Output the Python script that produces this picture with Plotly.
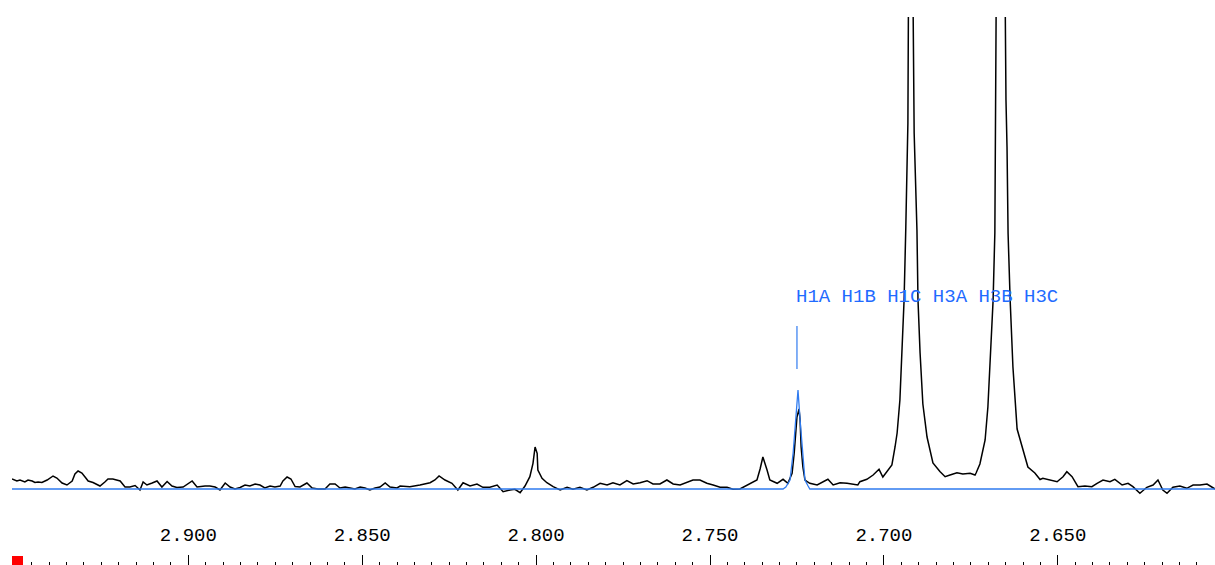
import plotly.graph_objects as go

# chemical shift (ppm) and intensity of the measured spectrum (black)
spec_ppm = [
    2.9507, 2.9493, 2.9484, 2.9470, 2.9461, 2.9449, 2.9441, 2.9432, 2.9421, 2.9406,
    2.9389, 2.9378, 2.9363, 2.9349, 2.9334, 2.9326, 2.9317, 2.9306, 2.9297, 2.9288,
    2.9274, 2.9254, 2.9240, 2.9231, 2.9217, 2.9196, 2.9182, 2.9168, 2.9153, 2.9139,
    2.9130, 2.9119, 2.9104, 2.9090, 2.9076, 2.9061, 2.9047, 2.9033, 2.9015, 2.8989,
    2.8975, 2.8966, 2.8952, 2.8938, 2.8923, 2.8909, 2.8894, 2.8880, 2.8866, 2.8851,
    2.8837, 2.8823, 2.8808, 2.8794, 2.8780, 2.8765, 2.8751, 2.8736, 2.8728, 2.8716,
    2.8705, 2.8693, 2.8679, 2.8659, 2.8644, 2.8627, 2.8607, 2.8593, 2.8578, 2.8564,
    2.8549, 2.8535, 2.8521, 2.8506, 2.8492, 2.8478, 2.8463, 2.8449, 2.8434, 2.8420,
    2.8400, 2.8391, 2.8363, 2.8334, 2.8305, 2.8291, 2.8279, 2.8262, 2.8242, 2.8225,
    2.8210, 2.8190, 2.8170, 2.8153, 2.8133, 2.8112, 2.8095, 2.8075, 2.8061, 2.8046,
    2.8032, 2.8018, 2.8009, 2.8003, 2.7997, 2.7995, 2.7983, 2.7969, 2.7951, 2.7931,
    2.7911, 2.7894, 2.7874, 2.7854, 2.7836, 2.7816, 2.7796, 2.7779, 2.7759, 2.7739,
    2.7721, 2.7701, 2.7681, 2.7664, 2.7644, 2.7624, 2.7606, 2.7586, 2.7566, 2.7549,
    2.7529, 2.7509, 2.7491, 2.7471, 2.7451, 2.7434, 2.7414, 2.7385, 2.7365, 2.7356,
    2.7348, 2.7336, 2.7328, 2.7307, 2.7290, 2.7276, 2.7264, 2.7258, 2.7253, 2.7250,
    2.7244, 2.7241, 2.7238, 2.7233, 2.7227, 2.7213, 2.7192, 2.7161, 2.7146, 2.7126,
    2.7106, 2.7089, 2.7075, 2.7069, 2.7049, 2.7031, 2.7014, 2.7003, 2.6991, 2.6977,
    2.6968, 2.6962, 2.6954, 2.6948, 2.6942, 2.6937, 2.6931, 2.6928, 2.6924, 2.6919,
    2.6916, 2.6913, 2.6905, 2.6902, 2.6896, 2.6888, 2.6876, 2.6859, 2.6839, 2.6824,
    2.6810, 2.6790, 2.6773, 2.6752, 2.6738, 2.6735, 2.6724, 2.6715, 2.6709, 2.6701,
    2.6692, 2.6686, 2.6681, 2.6678, 2.6675, 2.6672, 2.6669, 2.6662, 2.6655, 2.6652,
    2.6649, 2.6646, 2.6643, 2.6637, 2.6629, 2.6617, 2.6603, 2.6586, 2.6566, 2.6551,
    2.6543, 2.6522, 2.6502, 2.6485, 2.6474, 2.6459, 2.6442, 2.6422, 2.6402, 2.6387,
    2.6370, 2.6350, 2.6336, 2.6315, 2.6298, 2.6284, 2.6264, 2.6244, 2.6226, 2.6212,
    2.6198, 2.6186, 2.6169, 2.6149, 2.6129, 2.6111, 2.6091, 2.6071, 2.6057, 2.6048,
]
spec_int = [
    10, 8, 9, 7, 9, 8, 6.5, 7, 6.5, 9,
    13, 11, 6, 4, 8, 15, 18, 16, 12, 8,
    6.5, 3, 7, 10, 10, 8, 2, 2, 3.5, -1,
    7, 4, 6, 8, 2, 7.5, 3, 1.5, 2, 8,
    2, 2.5, 3, 3, 2, -1, 6, 2, 0, 1.5,
    4, 3, 5, 4, 1, 3, 2, 3, 8, 12,
    10, 2.5, 2, 6, 1, 0, 0, 5, 5, 1,
    2, 1, 0, 2, 1, -1, 1, 2, 6, 2,
    1, 3, 2.3, 4, 6.3, 9, 13, 9, 5.7, -1,
    6.3, 3, 5, 1.7, 1.7, 4, -2.7, -1, -0.3, -3.7,
    3, 12.3, 25.7, 42, 35.7, 19, 10.7, 6.3, 2.3, -1,
    1.7, -0.3, 1.7, -1, 1.7, 5.7, 4, 6.3, 4, 8.3,
    5, 6.3, 8.3, 5, 5, 9, 5, 4, 6.3, 9,
    9, 5.7, 4, 1.7, 1.7, -0.3, 0, 5.7, 9, 20,
    32, 19, 9, 5.7, 9.7, 5.7, 15.7, 35.7, 59, 72,
    80, 69, 42, 22, 9, 5.7, 4, 9.7, 4, 6.3,
    5.7, 5, 4, 7.3, 9.7, 14, 19.7, 12, 17.3, 24,
    42, 56, 89, 139, 189, 262, 366, 600, 1500, 700,
    480, 356, 259, 189, 136, 85, 52, 26, 17.5, 12.3,
    14, 16.3, 15, 15.7, 14, 16, 25, 39, 49, 82,
    139, 189, 256, 322, 399, 480, 650, 1400, 650, 480,
    389, 342, 256, 189, 122, 60, 42, 22, 16, 9.5,
    10.7, 9, 7.3, 12.3, 17.3, 12.3, 2.3, 3, 2.3, 5.7,
    9, 7.3, 9.7, 4, 5.7, 2.3, -4.3, 1.7, 4, 9,
    -1, -4.3, 1.7, 3, 0.7, 4, 4, 5, 2.3, 0,
]

# fitted line (blue): baseline plus the fitted H1 peak
fit_ppm = [2.9507, 2.7290, 2.7282, 2.7270, 2.7261, 2.7253, 2.7247, 2.7241, 2.7233,
           2.7227, 2.7218, 2.7213, 2.6048]
fit_int = [0, 0, 2, 9, 36, 69, 99, 69, 29, 9, 3, 0, 0]

# assignment marker and labels
assign_ppm = [2.7250, 2.7250]
assign_int = [120, 163]
assign_labels = ["H1A", "H1B", "H1C", "H3A", "H3B", "H3C"]
label_int = 192

tick_vals = [2.900, 2.850, 2.800, 2.750, 2.700, 2.650]
tick_text = ["2.900", "2.850", "2.800", "2.750", "2.700", "2.650"]

BLUE = "#2f7bf0"
LABEL_BLUE = "#1f6bff"

fig = go.Figure()
fig.add_trace(go.Scatter(x=spec_ppm, y=spec_int, mode="lines",
                         line=dict(color="black", width=1.5), hoverinfo="skip"))
fig.add_trace(go.Scatter(x=fit_ppm, y=fit_int, mode="lines",
                         line=dict(color=BLUE, width=1.3), hoverinfo="skip"))
fig.add_trace(go.Scatter(x=assign_ppm, y=assign_int, mode="lines",
                         line=dict(color=BLUE, width=1.2), hoverinfo="skip"))

fig.add_annotation(x=assign_ppm[0], y=label_int, xref="x", yref="y",
                   text=" ".join(assign_labels), showarrow=False,
                   xanchor="left", yanchor="middle", xshift=-3,
                   font=dict(family="Liberation Mono", size=19, color=LABEL_BLUE))

fig.add_shape(type="rect", xref="paper", yref="paper",
              x0=0, x1=11 / 1203, y0=0, y1=9 / 548,
              fillcolor="#ff0000", line=dict(width=0))

fig.update_layout(
    width=1215, height=565,
    margin=dict(l=12, r=0, t=17, b=0),
    paper_bgcolor="white", plot_bgcolor="white",
    showlegend=False,
    xaxis=dict(
        range=[2.9507, 2.6048],
        tickmode="array", tickvals=tick_vals, ticktext=tick_text,
        ticks="inside", ticklen=10, tickwidth=1, tickcolor="black",
        ticklabelposition="inside", ticklabelstandoff=11,
        tickfont=dict(family="Liberation Mono", size=19, color="black"),
        minor=dict(ticks="inside", ticklen=3, tickwidth=1, tickcolor="black", dtick=0.005, tick0=2.65),
        showgrid=False, zeroline=False, showline=False,
    ),
    yaxis=dict(range=[-76, 472], visible=False, showgrid=False, zeroline=False),
)

fig.write_html("out.html", config={"displayModeBar": False},
               post_script="document.body.style.margin='0px';document.body.style.overflow='hidden';")
